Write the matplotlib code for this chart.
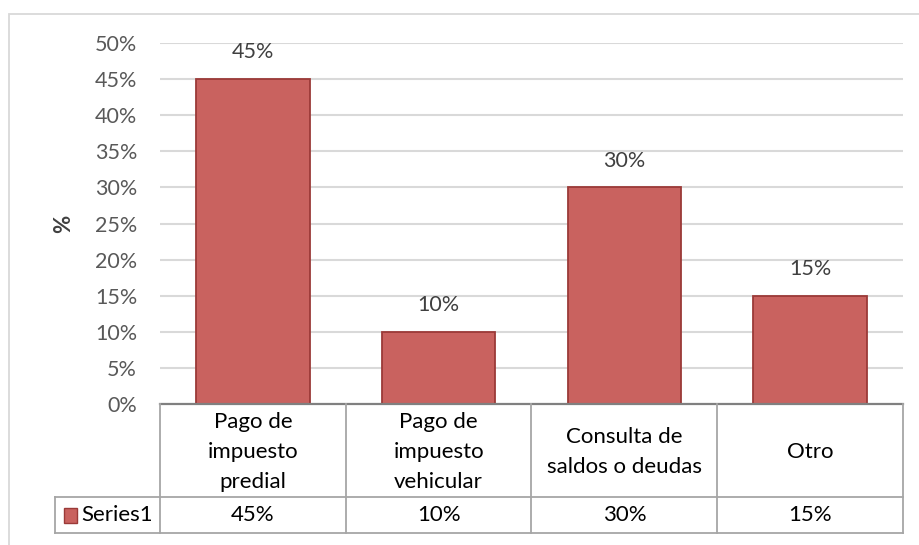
import matplotlib
matplotlib.use("Agg")
import matplotlib.pyplot as plt
from matplotlib.patches import Rectangle

categories = ["Pago de\nimpuesto\npredial", "Pago de\nimpuesto\nvehicular",
              "Consulta de\nsaldos o deudas", "Otro"]
values = [0.45, 0.10, 0.30, 0.15]
series_name = "Series1"
yticks = [0.0, 0.05, 0.10, 0.15, 0.20, 0.25, 0.30, 0.35, 0.40, 0.45, 0.50]

BAR = "#C9625F"
BAR_EDGE = "#9B3A38"
GRID = "#D9D9D9"
TICK = "#595959"
LINE = "#A6A6A6"
FS = 15.5
FS_TAB = 16

plt.rcParams["font.family"] = ["Lato", "DejaVu Sans"]
W, H = 920, 545
fig = plt.figure(figsize=(W / 100, H / 100), dpi=100)
fig.patch.set_facecolor("white")


def fx(px):
    return px / W


def fy(py):
    return 1 - py / H


# outer chart border (cropped on right and bottom)
fig.patches.append(Rectangle((fx(9), -0.05), 1.2, fy(14) + 0.05, transform=fig.transFigure,
                             fill=False, edgecolor=GRID, lw=1.3))

L, R, T, B = 160, 903, 43, 404
ax = fig.add_axes([fx(L), fy(B), fx(R) - fx(L), fy(T) - fy(B)])
x = range(len(values))
ax.bar(x, values, width=0.61, color=BAR, edgecolor=BAR_EDGE, lw=1.3, zorder=3)
for xi, v in zip(x, values):
    ax.annotate(f"{v:.0%}", (xi, v), xytext=(0, 12), textcoords="offset points",
                ha="center", va="bottom", fontsize=FS, color="#404040")
ax.set_xlim(-0.5, len(values) - 0.5)
ax.set_ylim(0, 0.5)
ax.set_yticks(yticks)
ax.set_yticklabels([f"{t:.0%}" for t in yticks], fontsize=FS, color=TICK)
ax.tick_params(axis="y", length=0, pad=16.5)
ax.set_xticks([])
ax.grid(axis="y", color=GRID, lw=1.5, zorder=0)
for s in ax.spines.values():
    s.set_visible(False)
ax.set_ylabel("%", fontsize=16, fontweight="bold", color="#404040", labelpad=15)

# data table
tab = fig.add_axes([fx(L), fy(533), fx(R) - fx(L), fy(B) - fy(533)])
tab.set_xlim(-0.5, len(values) - 0.5)
tab.set_ylim(0, 129)
tab.axis("off")
cw = (R - L) / len(values)
left_x = -0.5 - (L - 55) / cw
kw = dict(color=LINE, lw=1.3, clip_on=False)
tab.plot([-0.5, len(values) - 0.5], [129, 129], color="#808080", lw=1.6, clip_on=False)
tab.plot([left_x, len(values) - 0.5], [36, 36], **kw)
tab.plot([left_x, len(values) - 0.5], [0, 0], **kw)
tab.plot([left_x, left_x], [0, 36], **kw)
for i in range(len(values) + 1):
    tab.plot([i - 0.5, i - 0.5], [0, 129], **kw)
for xi, (c, v) in enumerate(zip(categories, values)):
    tab.text(xi, 81, c, ha="center", va="center", fontsize=FS_TAB, color="black",
             linespacing=1.62)
    tab.text(xi, 18, f"{v:.0%}", ha="center", va="center", fontsize=FS_TAB, color="black")
key_w = 13 / cw
tab.add_patch(Rectangle((left_x + 9 / cw, 10.5), key_w, 15, facecolor=BAR,
                        edgecolor=BAR_EDGE, lw=1.0, clip_on=False))
tab.text(left_x + 26 / cw, 18, series_name, ha="left", va="center",
         fontsize=FS_TAB, color="black")

fig.savefig("out.png", dpi=100, facecolor="white")
